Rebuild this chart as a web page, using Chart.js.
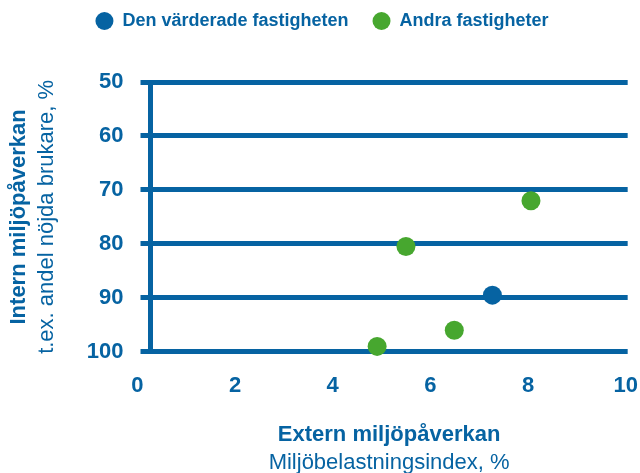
<!DOCTYPE html>
<html>
<head>
<meta charset="utf-8">
<script src="https://cdn.jsdelivr.net/npm/chart.js@4/dist/chart.umd.min.js"></script>
<style>
  html, body { margin: 0; padding: 0; background: #fff; }
  #wrap { width: 640px; height: 473px; }
</style>
</head>
<body>
<div id="wrap"><canvas id="myChart"></canvas></div>
<script>
// data
var seriesNames = ['Den värderade fastigheten', 'Andra fastigheter'];
var valuedX = [7.27];
var valuedY = [89.5];
var otherX = [8.06, 5.5, 6.49, 4.91];
var otherY = [72, 80.5, 96, 99];
var xTicks = [0, 2, 4, 6, 8, 10];
var yTicks = [50, 60, 70, 80, 90, 100];

var blue = '#0663a2';
var green = '#47a72f';
var font = '"Liberation Sans", Arial, sans-serif';

function points(xs, ys) {
  return xs.map(function (x, i) { return { x: x, y: ys[i] }; });
}

// push the plot area down below the legend
var legendGap = {
  id: 'legendGap',
  beforeInit: function (chart) {
    var fit = chart.legend.fit;
    chart.legend.fit = function () {
      fit.call(this);
      this.height += 42;
    };
  }
};

var ctx = document.getElementById('myChart').getContext('2d');
var myChart = new Chart(ctx, {
  type: 'scatter',
  data: {
    datasets: [
      {
        label: seriesNames[0],
        data: points(valuedX, valuedY),
        backgroundColor: blue,
        borderWidth: 0,
        pointRadius: 9.5,
        pointHoverRadius: 9.5,
        clip: false
      },
      {
        label: seriesNames[1],
        data: points(otherX, otherY),
        backgroundColor: green,
        borderWidth: 0,
        pointRadius: 9.5,
        pointHoverRadius: 9.5,
        clip: false
      }
    ]
  },
  options: {
    responsive: true,
    maintainAspectRatio: false,
    animation: false,
    layout: { padding: { left: 4, right: 0, top: -12, bottom: -3 } },
    plugins: {
      tooltip: { enabled: false },
      legend: {
        position: 'top',
        labels: {
          usePointStyle: true,
          pointStyle: 'circle',
          pointStyleWidth: 18,
          boxHeight: 12.7,
          padding: 24,
          color: blue,
          font: { family: font, size: 18, weight: 'bold' }
        }
      }
    },
    scales: {
      x: {
        type: 'linear',
        min: 0.27,
        max: 10.04,
        afterBuildTicks: function (scale) {
          scale.ticks = xTicks.map(function (v) { return { value: v }; });
        },
        // tick marks stay hidden; tickLength only spaces the labels
        grid: { display: false, drawTicks: true, tickLength: 19 },
        border: { display: false },
        ticks: {
          padding: 2,
          color: blue,
          font: { family: font, size: 22, weight: 'bold' }
        },
        title: {
          display: true,
          text: 'Extern miljöpåverkan',
          color: blue,
          padding: { top: 21, bottom: 0 },
          font: { family: font, size: 22, weight: 'bold' }
        }
      },
      x2: {
        type: 'linear',
        position: 'bottom',
        weight: 1,
        grid: { display: false, drawTicks: false },
        border: { display: false },
        ticks: { display: false },
        title: {
          display: true,
          text: 'Miljöbelastningsindex, %',
          color: blue,
          padding: { top: 1, bottom: 0 },
          font: { family: font, size: 22 }
        }
      },
      y: {
        type: 'linear',
        reverse: true,
        min: 50,
        max: 100,
        afterBuildTicks: function (scale) {
          scale.ticks = yTicks.map(function (v) { return { value: v }; });
        },
        grid: {
          color: blue,
          lineWidth: 5,
          drawTicks: true,
          tickLength: 10,
          tickColor: blue,
          tickWidth: 5
        },
        border: { display: true, color: blue, width: 5 },
        ticks: {
          padding: 17,
          color: blue,
          font: { family: font, size: 22, weight: 'bold' }
        },
        title: {
          display: true,
          text: 't.ex. andel nöjda brukare, %',
          color: blue,
          padding: { top: 1, bottom: 10 },
          font: { family: font, size: 22 }
        }
      },
      y2: {
        type: 'linear',
        position: 'left',
        weight: 1,
        grid: { display: false, drawTicks: false },
        border: { display: false },
        ticks: { display: false },
        title: {
          display: true,
          text: 'Intern miljöpåverkan',
          color: blue,
          padding: { top: 2, bottom: 0 },
          font: { family: font, size: 22, weight: 'bold' }
        }
      }
    }
  },
  plugins: [legendGap]
});
</script>
</body>
</html>
